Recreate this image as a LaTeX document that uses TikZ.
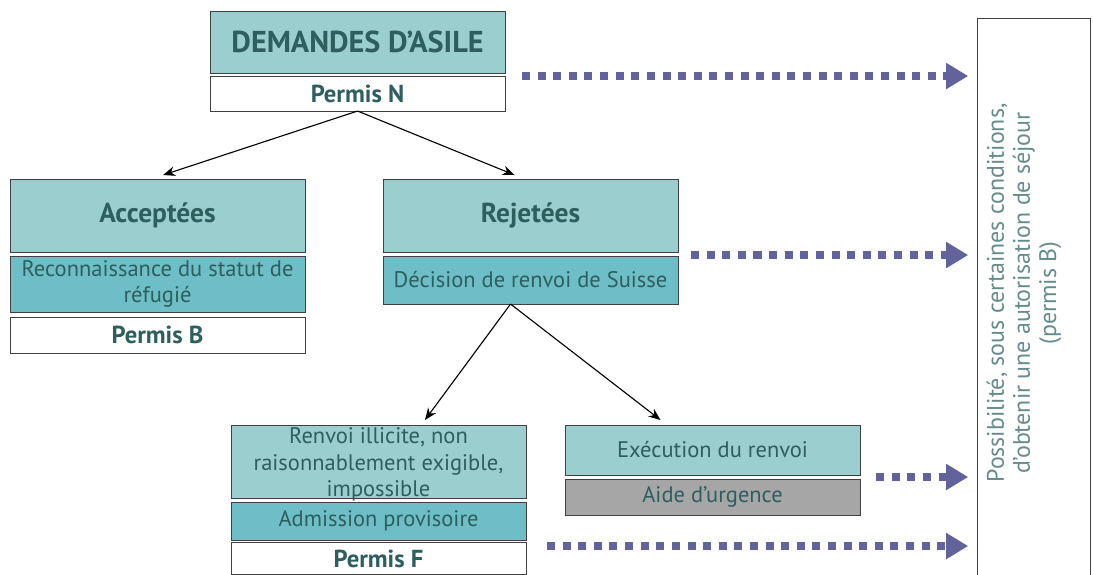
\documentclass[tikz,border=0pt]{standalone}
\usepackage{fontspec}
\setmainfont{PT Sans}
\usetikzlibrary{arrows.meta,positioning}
\definecolor{tealhead}{RGB}{155,206,206}
\definecolor{tealsub}{RGB}{109,190,198}
\definecolor{tealtxt}{RGB}{46,94,94}
\definecolor{grayaid}{RGB}{166,166,166}
\definecolor{dotcol}{RGB}{99,99,156}
\definecolor{posscol}{RGB}{100,140,140}

\begin{document}
\begin{tikzpicture}[
           x = 0.025cm, y = -0.025cm,% one unit = one pixel of the sketch
           > = {Stealth[length=3mm,width=2.4mm]}, thick,
     bx/.style = {draw=black!75, line width=0.6pt, minimum width=7.375cm,
                  inner sep=0pt, outer sep=0pt, text=tealtxt, align=center},
   head/.style = {bx, fill=tealhead, font=\fontsize{19.5}{22}\selectfont\bfseries},
    sub/.style = {bx, fill=tealsub, font=\fontsize{16}{19}\selectfont},
   perm/.style = {bx, fill=white, font=\fontsize{17.5}{20}\selectfont\bfseries},
   aide/.style = {bx, fill=grayaid, font=\fontsize{16}{19}\selectfont},
    txt/.style = {draw=none, text=tealtxt, align=center,
                  font=\fontsize{16}{19}\selectfont},% text over a box
   dots/.style = {draw=dotcol, line width=0.2cm, dash pattern=on 0.2cm off 0.19cm,
                  -{Triangle[length=0.55cm,width=0.62cm]}, shorten >=0.22cm},
]
\useasboundingbox (0,0) rectangle (1093,574);
\clip (0,0) rectangle (1093,574);
% top
\node[head, minimum height=1.55cm, anchor=north west,
      font=\fontsize{21.5}{24}\selectfont\bfseries] (dem) at (210,11) {DEMANDES D’ASILE};
\node[perm, minimum height=0.875cm, below=0.075cm of dem] (pn) {Permis N};
% accepted
\node[head, minimum height=1.825cm, anchor=north west] (acc) at (10,179) {Acceptées};
\node[sub, minimum height=1.4cm, below=0.1cm of acc] (rec) {Reconnaissance du statut de\\ réfugié};
\node[perm, minimum height=0.9cm, below=0.125cm of rec] (pb) {Permis B};
% rejected
\node[head, minimum height=1.825cm, anchor=north west] (rej) at (383,179) {Rejetées};
\node[sub, minimum height=1.2cm, below=0.1cm of rej] (dec) {Décision de renvoi de Suisse};
% provisional admission
\node[bx, fill=tealhead, minimum height=1.825cm, anchor=north west] (ill) at (231,425) {};
\node[txt] (illtxt) at ([yshift=-0.07cm]ill.center) {Renvoi illicite, non\\ raisonnablement exigible,\\ impossible};
\node[sub, minimum height=0.95cm, below=0.1cm of ill] (adm) {Admission provisoire};
\node[perm, minimum height=0.82cm, below=0.05cm of adm] (pf) {Permis F};
% removal
\node[bx, fill=tealhead, font=\fontsize{16}{19}\selectfont, minimum height=1.25cm,
      anchor=north west] (exe) at (565,425) {Exécution du renvoi};
\node[aide, minimum height=0.9cm, below=0.1cm of exe] (aid) {Aide d’urgence};
% right box
\node[draw=black!75, line width=0.6pt, fill=white, minimum width=2.825cm,
      minimum height=15cm, anchor=north west, inner sep=0pt] (poss) at (977,18) {};
\node[rotate=90, text=posscol, align=center, font=\fontsize{17}{18.5}\selectfont]
     (posst) at (1024,293) {Possibilité, sous certaines conditions,\\ d’obtenir une autorisation de séjour\\ (permis B)};
% arrows of the tree
\draw[->] (pn.south) -- ([xshift=0.14cm, yshift=0.1cm]acc.north);
\draw[->] (pn.south) -- ([xshift=-0.4cm, yshift=0.1cm]rej.north);
\draw[->] ([xshift=-0.5cm]dec.south) -- ([xshift=1.16cm, yshift=0.125cm]ill.north);
\draw[->] ([xshift=-0.5cm]dec.south) -- ([xshift=-1.3cm, yshift=0.125cm]exe.north);
% dotted arrows to the right box
\coordinate (d1) at ([shift={(17,3)}]dem.south east);
\coordinate (d2) at ([shift={(13,3)}]rej.south east);
\coordinate (d3) at ([shift={(16,2)}]exe.south east);
\coordinate (d4) at ([shift={(21,6)}]adm.south east);
\foreach \d in {d1,d2,d3,d4}
  \draw[dots] (\d) -- (\d -| poss.west);
\end{tikzpicture}
\end{document}
